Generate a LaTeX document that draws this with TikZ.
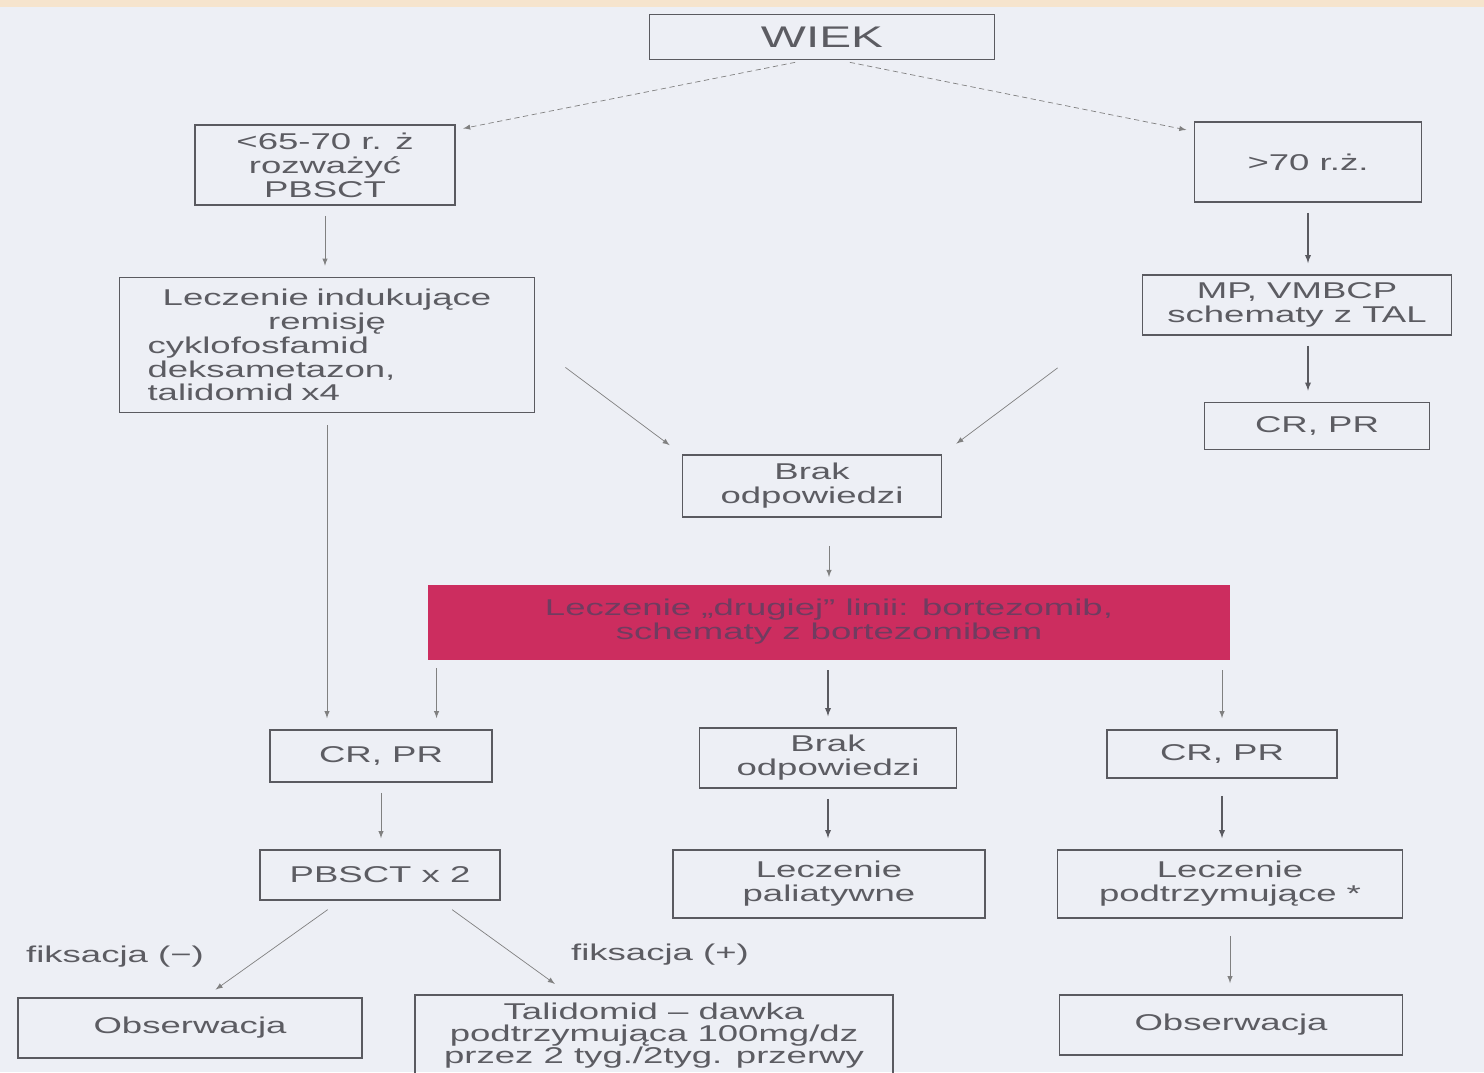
\documentclass[tikz,border=0pt]{standalone}
\usepackage{fontspec}
\setmainfont{Liberation Sans}[FakeStretch=1.6]
\usepackage{tikz}
\definecolor{scanpaper}{RGB}{237,239,245}
\definecolor{peachstrip}{RGB}{246,228,205}
\definecolor{boxline}{RGB}{90,90,96}
\definecolor{inkgray}{RGB}{92,92,98}
\definecolor{crimsonrose}{RGB}{204,45,95}
\definecolor{crimsonink}{RGB}{112,60,96}

\begin{document}
\begin{tikzpicture}[x=0.02cm, y=-0.02cm, -latex, semithick,
	box/.style={rectangle, draw=boxline, line width=1pt, text=inkgray, align=center, inner sep=2pt, font=\fontsize{13}{13.6}\selectfont},
	redbox/.style={rectangle, fill=crimsonrose, text=crimsonink, align=center, font=\fontsize{13}{13.6}\selectfont},
	note/.style={text=inkgray, font=\fontsize{13}{13.6}\selectfont},
	link/.style={draw=gray, thin, shorten <=0.2cm, shorten >=0.22cm},
	boldlink/.style={link, draw=boxline, semithick},
	dlink/.style={link, dash pattern=on 3pt off 2pt}]
			\useasboundingbox (0,0) rectangle (1484,1072);
			\fill[-, scanpaper] (0,0) rectangle (1484,1072);
			\fill[-, peachstrip] (0,0) rectangle (1484,7);
			\node [box, minimum width=6.9cm, minimum height=0.9cm, font=\fontsize{17}{17}\selectfont] (wiek) at (822,37) {WIEK};
			\node [box, minimum width=5.2cm, minimum height=1.6cm] (young) at (325,165) {<65-70 r. ż\\rozważyć\\PBSCT};
			\node [box, minimum width=4.54cm, minimum height=1.6cm] (old) at (1308,162) {>70 r.ż.};
			\node [box, minimum width=8.3cm, minimum height=2.7cm, align=left, text width=7.18cm, inner xsep=0.56cm] (induct) at (327,345) {{\centering Leczenie indukujące\\remisję\par}cyklofosfamid\\deksametazon,\\talidomid x4};
			\node [box, minimum width=6.18cm, minimum height=1.2cm] (mpv) at (1297,305) {MP, VMBCP\\schematy z TAL};
			\node [box, minimum width=4.5cm, minimum height=0.94cm] (crB) at (1317,426) {CR, PR};
			\node [box, minimum width=5.18cm, minimum height=1.24cm] (brak1) at (812,486) {Brak\\odpowiedzi};
			\node [redbox, minimum width=16.04cm, minimum height=1.5cm] (rescue) at (829,622) {Leczenie „drugiej” linii: bortezomib,\\schematy z bortezomibem};
			\node [box, minimum width=4.44cm, minimum height=1.04cm] (cr1) at (381,756) {CR, PR};
			\node [box, minimum width=5.14cm, minimum height=1.2cm] (brak2) at (828,758) {Brak\\odpowiedzi};
			\node [box, minimum width=4.6cm, minimum height=0.96cm] (cr3) at (1222,754) {CR, PR};
			\node [box, minimum width=4.8cm, minimum height=1cm] (pbsct) at (380,875) {PBSCT x 2};
			\node [box, minimum width=6.24cm, minimum height=1.36cm] (palliat) at (829,884) {Leczenie\\paliatywne};
			\node [box, minimum width=6.9cm, minimum height=1.36cm] (maint) at (1230,884) {Leczenie\\podtrzymujące *};
			\node [box, minimum width=6.88cm, minimum height=1.2cm] (obs1) at (190,1028) {Obserwacja};
			\node [box, minimum width=9.56cm, minimum height=1.64cm, font=\fontsize{13}{12.5}\selectfont] (thal) at (654,1036) {Talidomid – dawka\\podtrzymująca 100mg/dz\\przez 2 tyg./2tyg. przerwy};
			\node [box, minimum width=6.86cm, minimum height=1.2cm] (obs2) at (1231,1025) {Obserwacja};
			\node [note] (fixneg) at (115,957) {fiksacja (−)};
			\node [note] (fixpos) at (660,955) {fiksacja (+)};
			\path ([xshift=-0.34cm]wiek.south) edge [dlink, shorten >=0.15cm] (young.15);
			\path ([xshift=0.36cm]wiek.south) edge [dlink, shorten >=0.15cm] (old.165);
			\path (young.south) edge [link] (young.south |- induct.north);
			\path (old.south) edge [boldlink] (old.south |- mpv.north);
			\path (old.south |- mpv.south) edge [boldlink] (old.south |- crB.north);
			\path (induct.east) edge [link, shorten <=0.75cm, shorten >=0.3cm] (brak1.north west);
			\path (mpv.west) edge [link, shorten <=2.1cm, shorten >=0.35cm] (brak1.north east);
			\path (rescue.north |- brak1.south) edge [link, shorten <=0.56cm, shorten >=0.14cm] (rescue.north);
			\path (induct.south) edge [link, shorten <=0.24cm] (induct.south |- cr1.north);
			\path ([xshift=0.18cm]rescue.south west) edge [link, shorten <=0.16cm] ([xshift=0.18cm]rescue.south west |- cr1.north);
			\path (rescue.south -| brak2.north) edge [boldlink] (brak2.north);
			\path (rescue.south -| cr3.north) edge [link] (cr3.north);
			\path (cr1.south) edge [link] (cr1.south |- pbsct.north);
			\path (brak2.south) edge [boldlink] (brak2.south |- palliat.north);
			\path (cr3.south) edge [boldlink, shorten <=0.34cm] (cr3.south |- maint.north);
			\path (maint.south) edge [link, shorten <=0.34cm] (maint.south |- obs2.north);
			\path ([xshift=-0.8cm]pbsct.south) edge [link, shorten <=0.3cm, shorten >=0.26cm] ([xshift=0.3cm]obs1.north);
			\path ([xshift=1.2cm]pbsct.south) edge [link, shorten <=0.3cm, shorten >=0.35cm] ([xshift=-1.7cm]thal.north);
		\end{tikzpicture}
\end{document}
